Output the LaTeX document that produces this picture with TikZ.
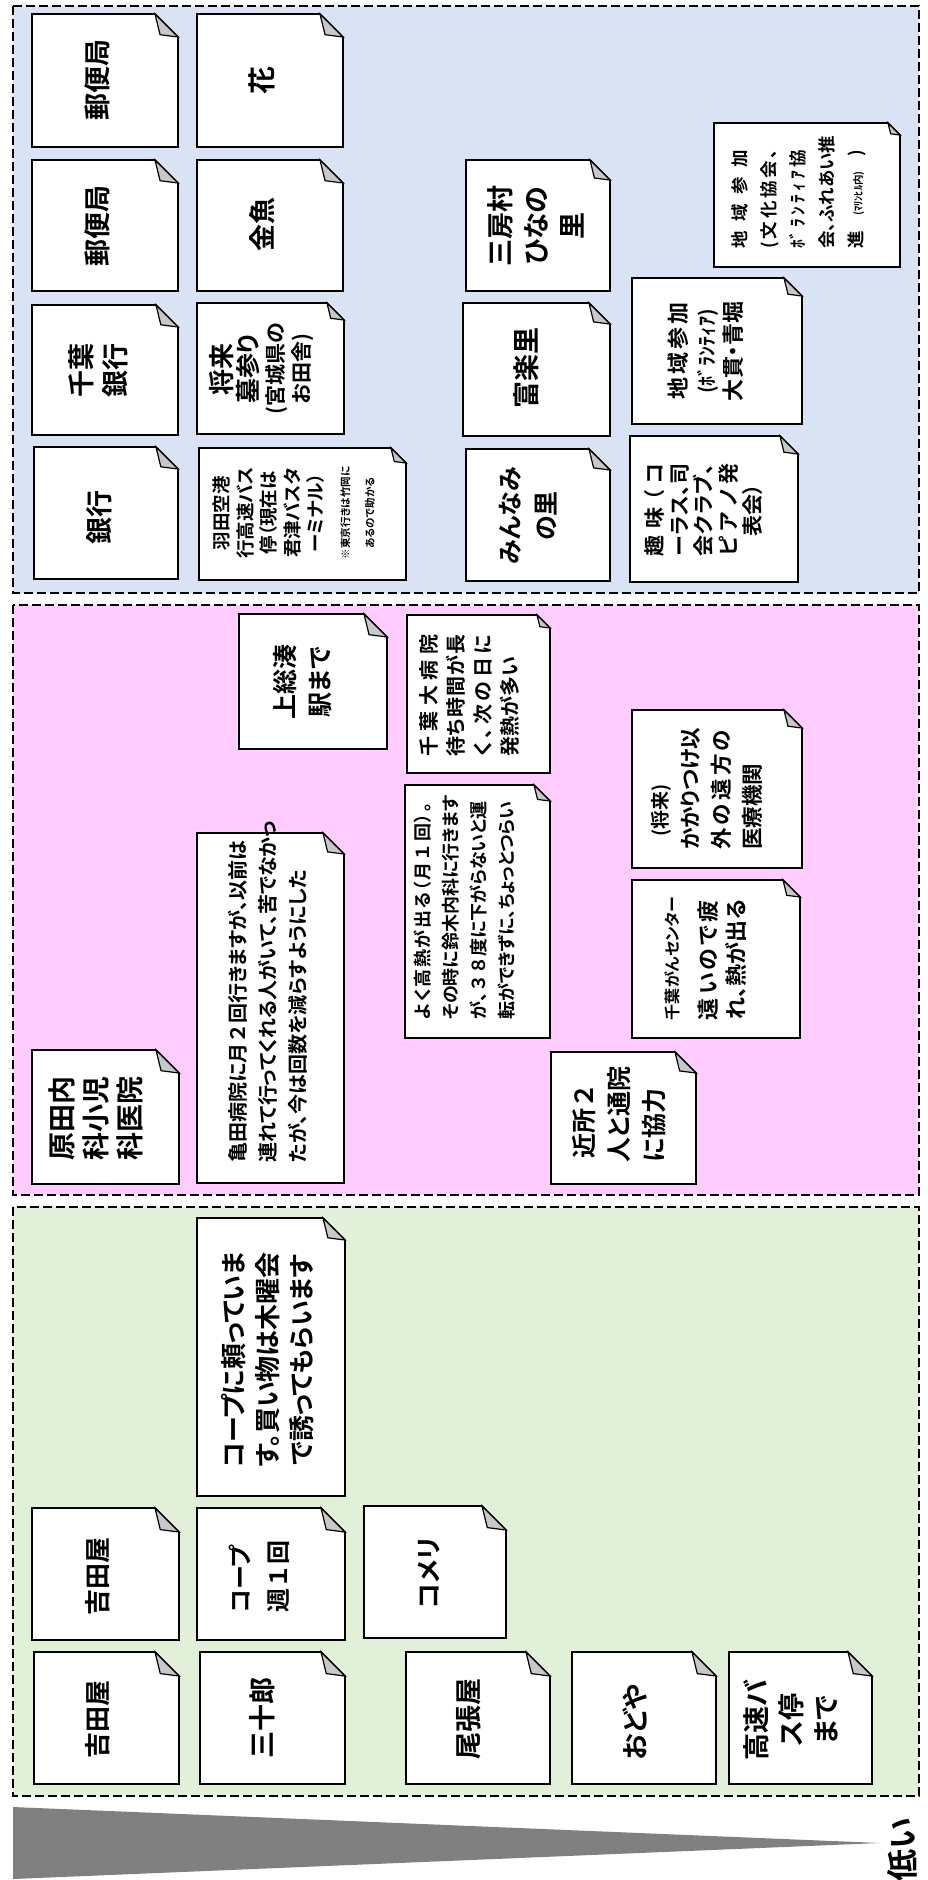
\documentclass[tikz,border=0pt]{standalone}
\usepackage{fontspec}
\newfontfamily\jp{Noto Sans CJK JP Bold}[RawFeature=+palt]
\newfontfamily\jpn{Noto Sans CJK JP Bold}
\usetikzlibrary{fit}
\definecolor{pblue}{HTML}{DAE3F3}
\definecolor{ppink}{HTML}{FFCCFF}
\definecolor{pgreen}{HTML}{E2F0D9}
\definecolor{foldgray}{HTML}{C8C8C8}
\definecolor{trigray}{HTML}{808080}
\newcommand\fs[2]{\fontsize{#1}{#2}\selectfont}
\newcommand\fw[1]{{\jpn #1}}
\makeatletter
\def\distend{\distend}
\def\dist@stop{\distend}
\newcommand\dist[2]{\makebox[#1pt][s]{\dist@a#2\distend}}
\def\dist@a#1{#1\dist@b}
\def\dist@b#1{\def\dist@tmp{#1}\ifx\dist@tmp\dist@stop\else\hfill#1\expandafter\dist@b\fi}
\makeatother
\tikzset{
  panel/.style={draw=black, line width=2.5pt, dash pattern=on 9pt off 4pt},
  frame/.style={inner sep=0pt, outer sep=0pt, draw=none},
  boxline/.style={draw=black, line width=1.6pt, line join=miter},
  txt/.style={rotate=90, inner sep=0pt, align=center, text=black},
  txtl/.style={rotate=90, inner sep=0pt, align=left, anchor=west, text=black},
}
\newcommand\notebox[6]{%
  \node[frame, fit={(#2,#3) (#4,#5)}] (#1) {};
  \draw[boxline, fill=white] (#1.north west) -- ([xshift=-#6pt]#1.north east) -- ([yshift=-#6pt]#1.north east) -- (#1.south east) -- (#1.south west) -- cycle;
  \draw[boxline, line width=1.2pt, fill=foldgray] ([xshift=-#6pt]#1.north east) -- ([yshift=-#6pt]#1.north east) -- ([xshift={-0.78*#6pt}, yshift={-0.9*#6pt}]#1.north east) -- cycle;}
\begin{document}
\begin{tikzpicture}[x=1pt, y=-1pt]
\useasboundingbox (0,0) rectangle (927,1880);
\fill[white] (0,0) rectangle (927,1880);
% panels
\draw[panel, fill=pblue] (13,6) rectangle (919,593);
\draw[panel, fill=ppink] (13,605) rectangle (919,1195);
\draw[panel, fill=pgreen] (13,1207) rectangle (919,1796);
% scale triangle
\fill[trigray] (13,1807) -- (880,1843) -- (13,1879) -- cycle;
\node[txt, font={\jp\fs{32}{36}}] (low) at (902,1850) {低い};
% ---------------- blue panel
\notebox{b1}{32}{14}{178}{147}{23}
\node[txt, font={\jp\fs{27}{34}}] (b1t) at (97,80) {郵便局};
\notebox{b2}{197}{14}{343}{147}{23}
\node[txt, font={\jp\fs{28}{34}}] (b2t) at (262,80) {花};
\notebox{b3}{32}{160}{178}{291}{23}
\node[txt, font={\jp\fs{27}{34}}] (b3t) at (97,226) {郵便局};
\notebox{b4}{197}{160}{343}{291}{23}
\node[txt, font={\jp\fs{27}{34}}] (b4t) at (262,224) {金魚};
\notebox{b5}{32}{305}{178}{435}{22}
\node[txt, font={\jp\fs{27}{34}}] (b5t) at (98,370) {千葉\\銀行};
\notebox{b6}{197}{303}{344}{434}{17}
\node[txt, font={\jp\fs{25}{26}}] (b6t) at (262,369) {{\fs{26}{26}将来}\\墓参り\\{\fs{21}{26}(宮城県の}\\{\fs{21}{26}お田舎)}};
\notebox{b7}{34}{447}{178}{579}{22}
\node[txt, font={\jp\fs{27}{34}}] (b7t) at (99,517) {銀行};
\notebox{b8}{199}{448}{406}{580}{15}
\node[txt, font={\jp\fs{18.5}{23.5}}] (b8t) at (294,513) {羽田空港\\行高速バス\\停（現在は\\君津バスタ\\ーミナル）\\[3pt]{\fs{10.5}{23.5}※東京行きは竹岡に}\\[1pt]{\fs{10.5}{23.5}あるので助かる}};
\notebox{b9}{466}{160}{610}{291}{20}
\node[txt, font={\jp\fs{27}{36}}] (b9t) at (536,226) {三房村\\ひなの\\里};
\notebox{b10}{463}{303}{610}{436}{21}
\node[txt, font={\jp\fs{27}{34}}] (b10t) at (526,368) {富楽里};
\notebox{b11}{466}{449}{610}{581}{21}
\node[txt, font={\jp\fs{25}{36}}] (b11t) at (528,516) {みんなみ\\の里};
\notebox{b12}{714}{123}{900}{267}{12}
\node[txt, font={\jp\fs{17.5}{29}}] (b12t) at (798.5,199) {\dist{99}{地域参加}\\\dist{99}{(文化協会、}\\\dist{99}{{ﾎﾞ}ﾗﾝﾃｨｱ協}\\\dist{99}{会、ふれあい推}\\\dist{99}{進{{\fs{10.5}{29}(ﾏﾘﾝﾋﾙ内)}})}};
\notebox{b13}{632}{278}{802}{424}{18}
\node[txt, font={\jp\fs{22}{27.5}}] (b13t) at (706,351) {\dist{97}{地域参加}\\{\fs{20}{27.5}(ﾎﾞﾗﾝﾃｨｱ)}\\\dist{100}{大貫・青堀}};
\notebox{b14}{630}{436}{798}{582}{18}
\node[txt, font={\jp\fs{21}{24.5}}] (b14t) at (704,510) {\dist{93}{趣味（コ}\\\dist{93}{ーラス、司}\\\dist{93}{会クラブ、}\\\dist{93}{ピアノ発}\\表会）};
% ---------------- pink panel
\notebox{p1}{239}{614}{387}{749}{23}
\node[txt, font={\jp\fs{25}{35}}] (p1t) at (302.5,682) {上総湊\\駅まで};
\notebox{p2}{407}{615}{550}{773}{13}
\node[txtl, font={\jp\fs{20}{27}}] (p2t) at (469,757) {\dist{122}{千葉大病院}\\\dist{122}{待ち時間が長}\\\dist{122}{く、次の日に}\\発熱が多い};
\notebox{p3}{405}{785}{550}{1038}{16}
\node[txtl, font={\jp\fs{18}{28}}] (p3t) at (465,1020) {\dist{217}{よく高熱が出る（月{{\fw{１}}}回）。}\\\dist{217}{その時に鈴木内科に行きます}\\\dist{217}{が、{{\fw{３}}}{{\fw{８}}}度に下がらないと運}\\転ができずに、ちょっとつらい};
\notebox{p4}{197}{833}{344}{1183}{21}
\node[txtl, font={\jp\fs{20}{30}}] (p4t) at (268,1163) {亀田病院に月\fw{２}回行きますが、以前は\\連れて行ってくれる人がいて、苦でなかっ\\たが、今は回数を減らすようにした};
\notebox{p5}{32}{1050}{179}{1184}{23}
\node[txt, font={\jp\fs{28}{34}}] (p5t) at (96,1118) {原田内\\科小児\\科医院};
\notebox{p6}{632}{710}{802}{868}{18}
\node[txtl, font={\jp\fs{21.5}{31}}] (p6t) at (706.5,850) {{\fs{19}{31}\hspace*{13pt}(将来)}\\\dist{120}{かかりつけ以}\\\dist{120}{外の遠方の}\\医療機関};
\notebox{p7}{632}{880}{800}{1038}{17}
\node[txt, font={\jp\fs{22}{28}}] (p7t) at (706,960) {{\fs{16}{28}\dist{120}{千葉がんセンター}}\\[10pt]\dist{120}{遠いので疲}\\\dist{120}{れ、熱が出る}};
\notebox{p8}{551}{1052}{696}{1184}{21}
\node[txtl, font={\jp\fs{25}{35}}] (p8t) at (619,1163) {\hspace*{4pt}近所\fw{２}\\人と通院\\に協力};
% ---------------- green panel
\notebox{g1}{197}{1218}{345}{1496}{22}
\node[txt, font={\jp\fs{26}{34}}] (g1t) at (268,1360) {コープに頼っていま\\す。買い物は木曜会\\で誘ってもらいます};
\notebox{g2}{32}{1508}{179}{1640}{24}
\node[txt, font={\jp\fs{26}{34}}] (g2t) at (98,1576) {吉田屋};
\notebox{g3}{197}{1508}{345}{1640}{24}
\node[txtl, font={\jp\fs{24}{38}}] (g3t) at (259,1613) {コープ\\週\fw{１}回};
\notebox{g4}{364}{1506}{506}{1638}{24}
\node[txt, font={\jp\fs{26}{34}}] (g4t) at (429,1573) {コメリ};
\notebox{g5}{34}{1652}{179}{1784}{24}
\node[txt, font={\jp\fs{26}{34}}] (g5t) at (98,1719) {吉田屋};
\notebox{g6}{200}{1652}{345}{1784}{24}
\node[txt, font={\jp\fs{27}{34}}] (g6t) at (262,1718) {三十郎};
\notebox{g7}{406}{1652}{550}{1784}{24}
\node[txt, font={\jp\fs{27}{34}}] (g7t) at (469,1719) {尾張屋};
\notebox{g8}{572}{1652}{716}{1784}{24}
\node[txt, font={\jp\fs{27}{34}}] (g8t) at (635,1722) {おどや};
\notebox{g9}{729}{1652}{872}{1784}{24}
\node[txt, font={\jp\fs{27}{35}}] (g9t) at (791,1720) {高速バ\\ス停\\まで};
\end{tikzpicture}
\end{document}
